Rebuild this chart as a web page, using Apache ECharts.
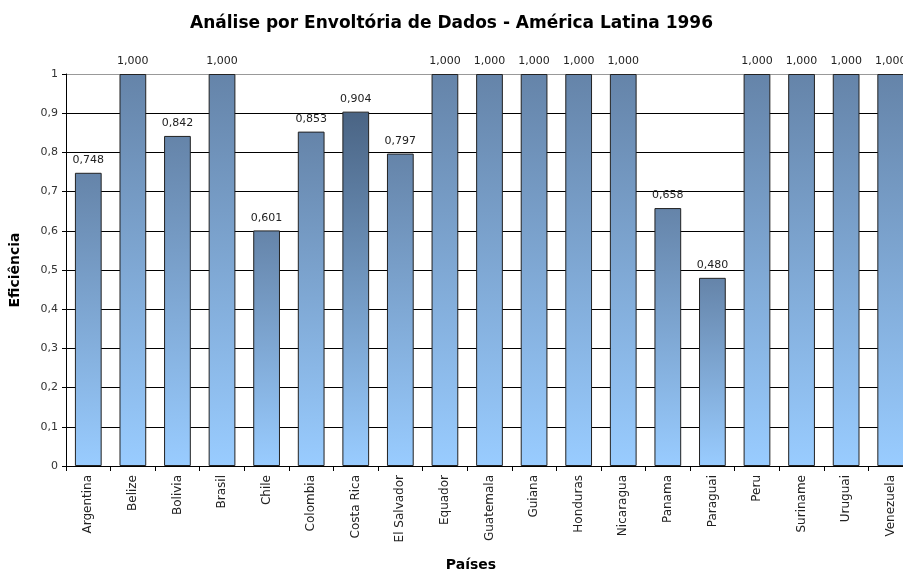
<!DOCTYPE html>
<html>
<head>
<meta charset="utf-8">
<script src="https://cdn.jsdelivr.net/npm/echarts@6/dist/echarts.min.js"></script>
<style>
html,body{margin:0;padding:0;background:#fff;}
#chart{width:903px;height:579px;}
</style>
</head>
<body>
<div id="chart"></div>
<script>
var paises = ['Argentina','Belize','Bolivia','Brasil','Chile','Colombia','Costa Rica','El Salvador','Equador','Guatemala','Guiana','Honduras','Nicaragua','Panama','Paraguai','Peru','Suriname','Uruguai','Venezuela'];
var eficiencia = [0.748,1,0.842,1,0.601,0.853,0.904,0.797,1,1,1,1,1,0.658,0.480,1,1,1,1];
var yTicks = ['0','0,1','0,2','0,3','0,4','0,5','0,6','0,7','0,8','0,9','1'];

function grad(top){
	return new echarts.graphic.LinearGradient(0,0,0,1,[
		{offset:0,color:top},
		{offset:1,color:'#99ccff'}
	]);
}

var chart = echarts.init(document.getElementById('chart'));
var barData = [];
for(var i=0;i<eficiencia.length;i++){
	barData.push({
		value:eficiencia[i],
		itemStyle:{color:grad(paises[i]=='Costa Rica'?'#4a6484':'#6584a9')}
	});
}

var option = {
	animation:false,
	textStyle:{fontFamily:'DejaVu Sans, Arial, sans-serif'},
	title:{
		text:'Análise por Envoltória de Dados - América Latina 1996',
		left:'center',
		top:10,
		textStyle:{fontSize:17,fontWeight:'bold',color:'#000',fontFamily:'DejaVu Sans'}
	},
	grid:{left:66,top:74,right:-10,bottom:113,containLabel:false,outerBoundsMode:'none'},
	xAxis:{
		type:'category',
		data:paises,
		name:'Países',
		nameLocation:'middle',
		nameGap:92,
		nameTextStyle:{fontSize:14,fontWeight:'bold',color:'#000',fontFamily:'DejaVu Sans',padding:[0,37,0,0]},
		axisLine:{lineStyle:{color:'#000'}},
		axisTick:{show:true,length:5,lineStyle:{color:'#000'}},
		axisLabel:{rotate:90,fontSize:12,color:'#222',margin:9,fontFamily:'DejaVu Sans'}
	},
	yAxis:{
		type:'value',
		min:0,max:1,interval:0.1,
		name:'Eficiência',
		nameLocation:'middle',
		nameGap:44,
		nameTextStyle:{fontSize:14,fontWeight:'bold',color:'#000',fontFamily:'DejaVu Sans'},
		axisLine:{show:true,lineStyle:{color:'#000'}},
		axisTick:{show:true,length:4,lineStyle:{color:'#000'}},
		axisLabel:{fontSize:11,color:'#333',margin:8,fontFamily:'DejaVu Sans',formatter:function(v){return yTicks[Math.round(v*10)];}},
		splitLine:{lineStyle:{color:['#000','#000','#000','#000','#000','#000','#000','#000','#000','#000','#999'],width:1}}
	},
	series:[{
		type:'bar',
		data:barData,
		barCategoryGap:'40%',
		itemStyle:{borderColor:'#222',borderWidth:1},
		label:{
			show:true,position:'top',distance:7,fontSize:11,color:'#222',fontFamily:'DejaVu Sans',
			formatter:function(p){return p.value.toFixed(3).replace('.',',');}
		}
	}]
};
chart.setOption(option);
</script>
</body>
</html>
